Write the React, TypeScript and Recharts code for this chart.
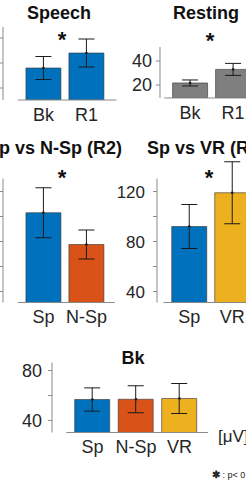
import React from 'react';
import { ComposedChart, Bar, Line, XAxis, YAxis, Cell, ErrorBar, ReferenceLine } from 'recharts';

// ---- data ----
const speechCats = ['Bk', 'R1'];
const speechMeans = [36, 48];
const speechErr = [9.2, 11.2];
const speechTicks = [20, 40, 60];
const speechLabeled: number[] = [];

const restingCats = ['Bk', 'R1'];
const restingMeans = [21.7, 33];
const restingErr = [2.5, 5];
const restingTicks = [20, 40];

const spNspCats = ['Sp', 'N-Sp'];
const spNspMeans = [103, 77.6];
const spNspErr = [20, 11.6];
const spNspTicks = [40, 60, 80, 100, 120];
const spNspLabeled: number[] = [];

const spVrCats = ['Sp', 'VR'];
const spVrMeans = [92, 119];
const spVrErr = [17.6, 24.8];
const spVrTicks = [40, 60, 80, 100, 120];
const spVrLabeled = [40, 80, 120];

const bkCats = ['Sp', 'N-Sp', 'VR'];
const bkMeans = [56.8, 57, 57.6];
const bkErr = [9.3, 10.8, 12];
const bkTicks = [40, 60, 80];
const bkLabeled = [40, 80];

const BLUE = '#0072BD';
const ORANGE = '#D95319';
const YELLOW = '#EDB120';
const GRAY = '#7f7f7f';
const AXIS = '#8a8a8a';
const TEXT = '#262626';
const FONT = '"Liberation Sans", Arial, Helvetica, sans-serif';

type PanelProps = {
  cats: string[];
  means: number[];
  errs: number[];
  colors: string[];
  yMin: number;
  yAxisTop: number;
  yMax: number;
  yTicks: number[];
  yLabeled: number[];
  xLeft: number;
  xRight: number;
  baseEnd: number;
  axisPx: number;
  baselinePx: number;
  kx: number;
  ky: number;
  tickFont: number;
  tickGap: number;
};

function Panel(p: PanelProps) {
  const data = p.cats.map((c, i) => ({ x: i + 1, name: c, v: p.means[i], e: p.errs[i] }));
  const yw = 60;
  const xh = 40;
  const plotW = (p.xRight - p.xLeft) * p.kx;
  const plotH = (p.yMax - p.yMin) * p.ky;
  const W = yw + plotW;
  const H = plotH + xh;
  return (
    <div style={{ position: 'absolute', left: p.axisPx - yw, top: p.baselinePx - plotH }}>
      <ComposedChart width={W} height={H} data={data} margin={{ top: 0, right: 0, bottom: 0, left: 0 }}>
        <XAxis
          type="number"
          dataKey="x"
          domain={[p.xLeft, p.xRight]}
          allowDataOverflow
          ticks={p.cats.map((_, i) => i + 1)}
          interval={0}
          tickFormatter={(v: number) => p.cats[Math.round(v) - 1]}
          axisLine={false}
          tickLine={false}
          tickSize={0}
          tickMargin={8}
          height={xh}
          tick={{ fill: TEXT, fontSize: 18, fontFamily: FONT }}
        />
        <YAxis
          type="number"
          domain={[p.yMin, p.yMax]}
          allowDataOverflow
          ticks={p.yTicks}
          interval={0}
          tickFormatter={(v: number) => (p.yLabeled.includes(v) ? String(v) : '')}
          width={yw}
          axisLine={false}
          tickSize={4}
          tickMargin={p.tickGap}
          tickLine={{ stroke: AXIS }}
          tick={{ fill: TEXT, fontSize: p.tickFont, fontFamily: FONT }}
        />
        <ReferenceLine
          segment={[{ x: p.xLeft, y: p.yMin }, { x: p.xLeft, y: p.yAxisTop }]}
          stroke={AXIS}
          strokeWidth={1}
          ifOverflow="visible"
        />
        <ReferenceLine
          segment={[{ x: 0.4, y: p.yMin }, { x: p.baseEnd, y: p.yMin }]}
          stroke={AXIS}
          strokeWidth={1}
          ifOverflow="visible"
        />
        <Bar dataKey="v" barSize={35} isAnimationActive={false} stroke="#333" strokeWidth={0.6}>
          {data.map((d, i) => (
            <Cell key={d.name} fill={p.colors[i]} />
          ))}
          <ErrorBar dataKey="e" width={8} stroke="#1a1a1a" strokeWidth={1} isAnimationActive={false} />
        </Bar>
        <Line
          dataKey="v"
          stroke="none"
          isAnimationActive={false}
          dot={{ r: 1.3, fill: '#1a1a1a', stroke: 'none' }}
          activeDot={false}
        />
      </ComposedChart>
    </div>
  );
}

const titleStyle: React.CSSProperties = {
  position: 'absolute',
  fontFamily: FONT,
  fontWeight: 'bold',
  fontSize: 18,
  lineHeight: '18px',
  color: '#111',
  whiteSpace: 'nowrap',
};

function Star({ cx, cy }: { cx: number; cy: number }) {
  return (
    <div
      style={{
        position: 'absolute',
        left: cx - 20,
        width: 40,
        top: cy - 6.4,
        textAlign: 'center',
        fontFamily: FONT,
        fontWeight: 'bold',
        fontSize: 22,
        lineHeight: '22px',
        color: '#111',
      }}
    >
      *
    </div>
  );
}

export default function App() {
  return (
    <div
      style={{
        position: 'fixed',
        left: 0,
        top: 0,
        width: 246,
        height: 484,
        overflow: 'hidden',
        background: '#fff',
      }}
    >
      <Panel
        cats={speechCats}
        means={speechMeans}
        errs={speechErr}
        colors={[BLUE, BLUE]}
        yMin={10.4}
        yAxisTop={68.8}
        yMax={80}
        yTicks={speechTicks}
        yLabeled={speechLabeled}
        xLeft={0.06}
        xRight={2.72}
        baseEnd={2.7}
        axisPx={3}
        baselinePx={100}
        kx={43}
        ky={1.25}
        tickFont={17}
        tickGap={6}
      />
      <Panel
        cats={restingCats}
        means={restingMeans}
        errs={restingErr}
        colors={[GRAY, GRAY]}
        yMin={9.2}
        yAxisTop={51.7}
        yMax={60}
        yTicks={restingTicks}
        yLabeled={restingTicks}
        xLeft={0.3}
        xRight={2.72}
        baseEnd={2.7}
        axisPx={160}
        baselinePx={98}
        kx={43}
        ky={1.2}
        tickFont={18}
        tickGap={4}
      />
      <Panel
        cats={spNspCats}
        means={spNspMeans}
        errs={spNspErr}
        colors={[BLUE, ORANGE]}
        yMin={31.2}
        yAxisTop={130.4}
        yMax={150}
        yTicks={spNspTicks}
        yLabeled={spNspLabeled}
        xLeft={0.06}
        xRight={2.72}
        baseEnd={2.66}
        axisPx={3}
        baselinePx={302}
        kx={43}
        ky={1.25}
        tickFont={17}
        tickGap={6}
      />
      <Panel
        cats={spVrCats}
        means={spVrMeans}
        errs={spVrErr}
        colors={[BLUE, YELLOW]}
        yMin={31.2}
        yAxisTop={130.4}
        yMax={150}
        yTicks={spVrTicks}
        yLabeled={spVrLabeled}
        xLeft={0.25}
        xRight={2.72}
        baseEnd={2.7}
        axisPx={157}
        baselinePx={302}
        kx={43}
        ky={1.25}
        tickFont={17}
        tickGap={8}
      />
      <Panel
        cats={bkCats}
        means={bkMeans}
        errs={bkErr}
        colors={[BLUE, ORANGE, YELLOW]}
        yMin={30.4}
        yAxisTop={86.4}
        yMax={90}
        yTicks={bkTicks}
        yLabeled={bkLabeled}
        xLeft={0.07}
        xRight={3.7}
        baseEnd={3.66}
        axisPx={52}
        baselinePx={432}
        kx={43.5}
        ky={1.25}
        tickFont={18}
        tickGap={6}
      />

      <div style={{ ...titleStyle, left: 59 - 100, width: 200, textAlign: 'center', top: 3.75 }}>Speech</div>
      <div style={{ ...titleStyle, left: 173, top: 3.75 }}>Resting</div>
      <div style={{ ...titleStyle, right: 246 - 122, top: 138.75 }}>Sp vs N-Sp (R2)</div>
      <div style={{ ...titleStyle, left: 147, top: 138.75 }}>Sp vs VR (R3)</div>
      <div style={{ ...titleStyle, left: 133 - 100, width: 200, textAlign: 'center', top: 348.75 }}>Bk</div>

      <Star cx={62} cy={35} />
      <Star cx={210} cy={36} />
      <Star cx={62} cy={173} />
      <Star cx={209} cy={173} />

      <div
        style={{
          position: 'absolute',
          left: 218,
          top: 428,
          fontFamily: FONT,
          fontSize: 17,
          lineHeight: '17px',
          color: TEXT,
          whiteSpace: 'nowrap',
        }}
      >
        [μV]
      </div>
      <div
        style={{
          position: 'absolute',
          left: 212,
          top: 470,
          fontFamily: FONT,
          fontSize: 9,
          lineHeight: '10px',
          color: TEXT,
          whiteSpace: 'nowrap',
        }}
      >
        <span style={{ fontWeight: 'bold', fontSize: 10 }}>✱</span> : p&lt; 0.05
      </div>
    </div>
  );
}
